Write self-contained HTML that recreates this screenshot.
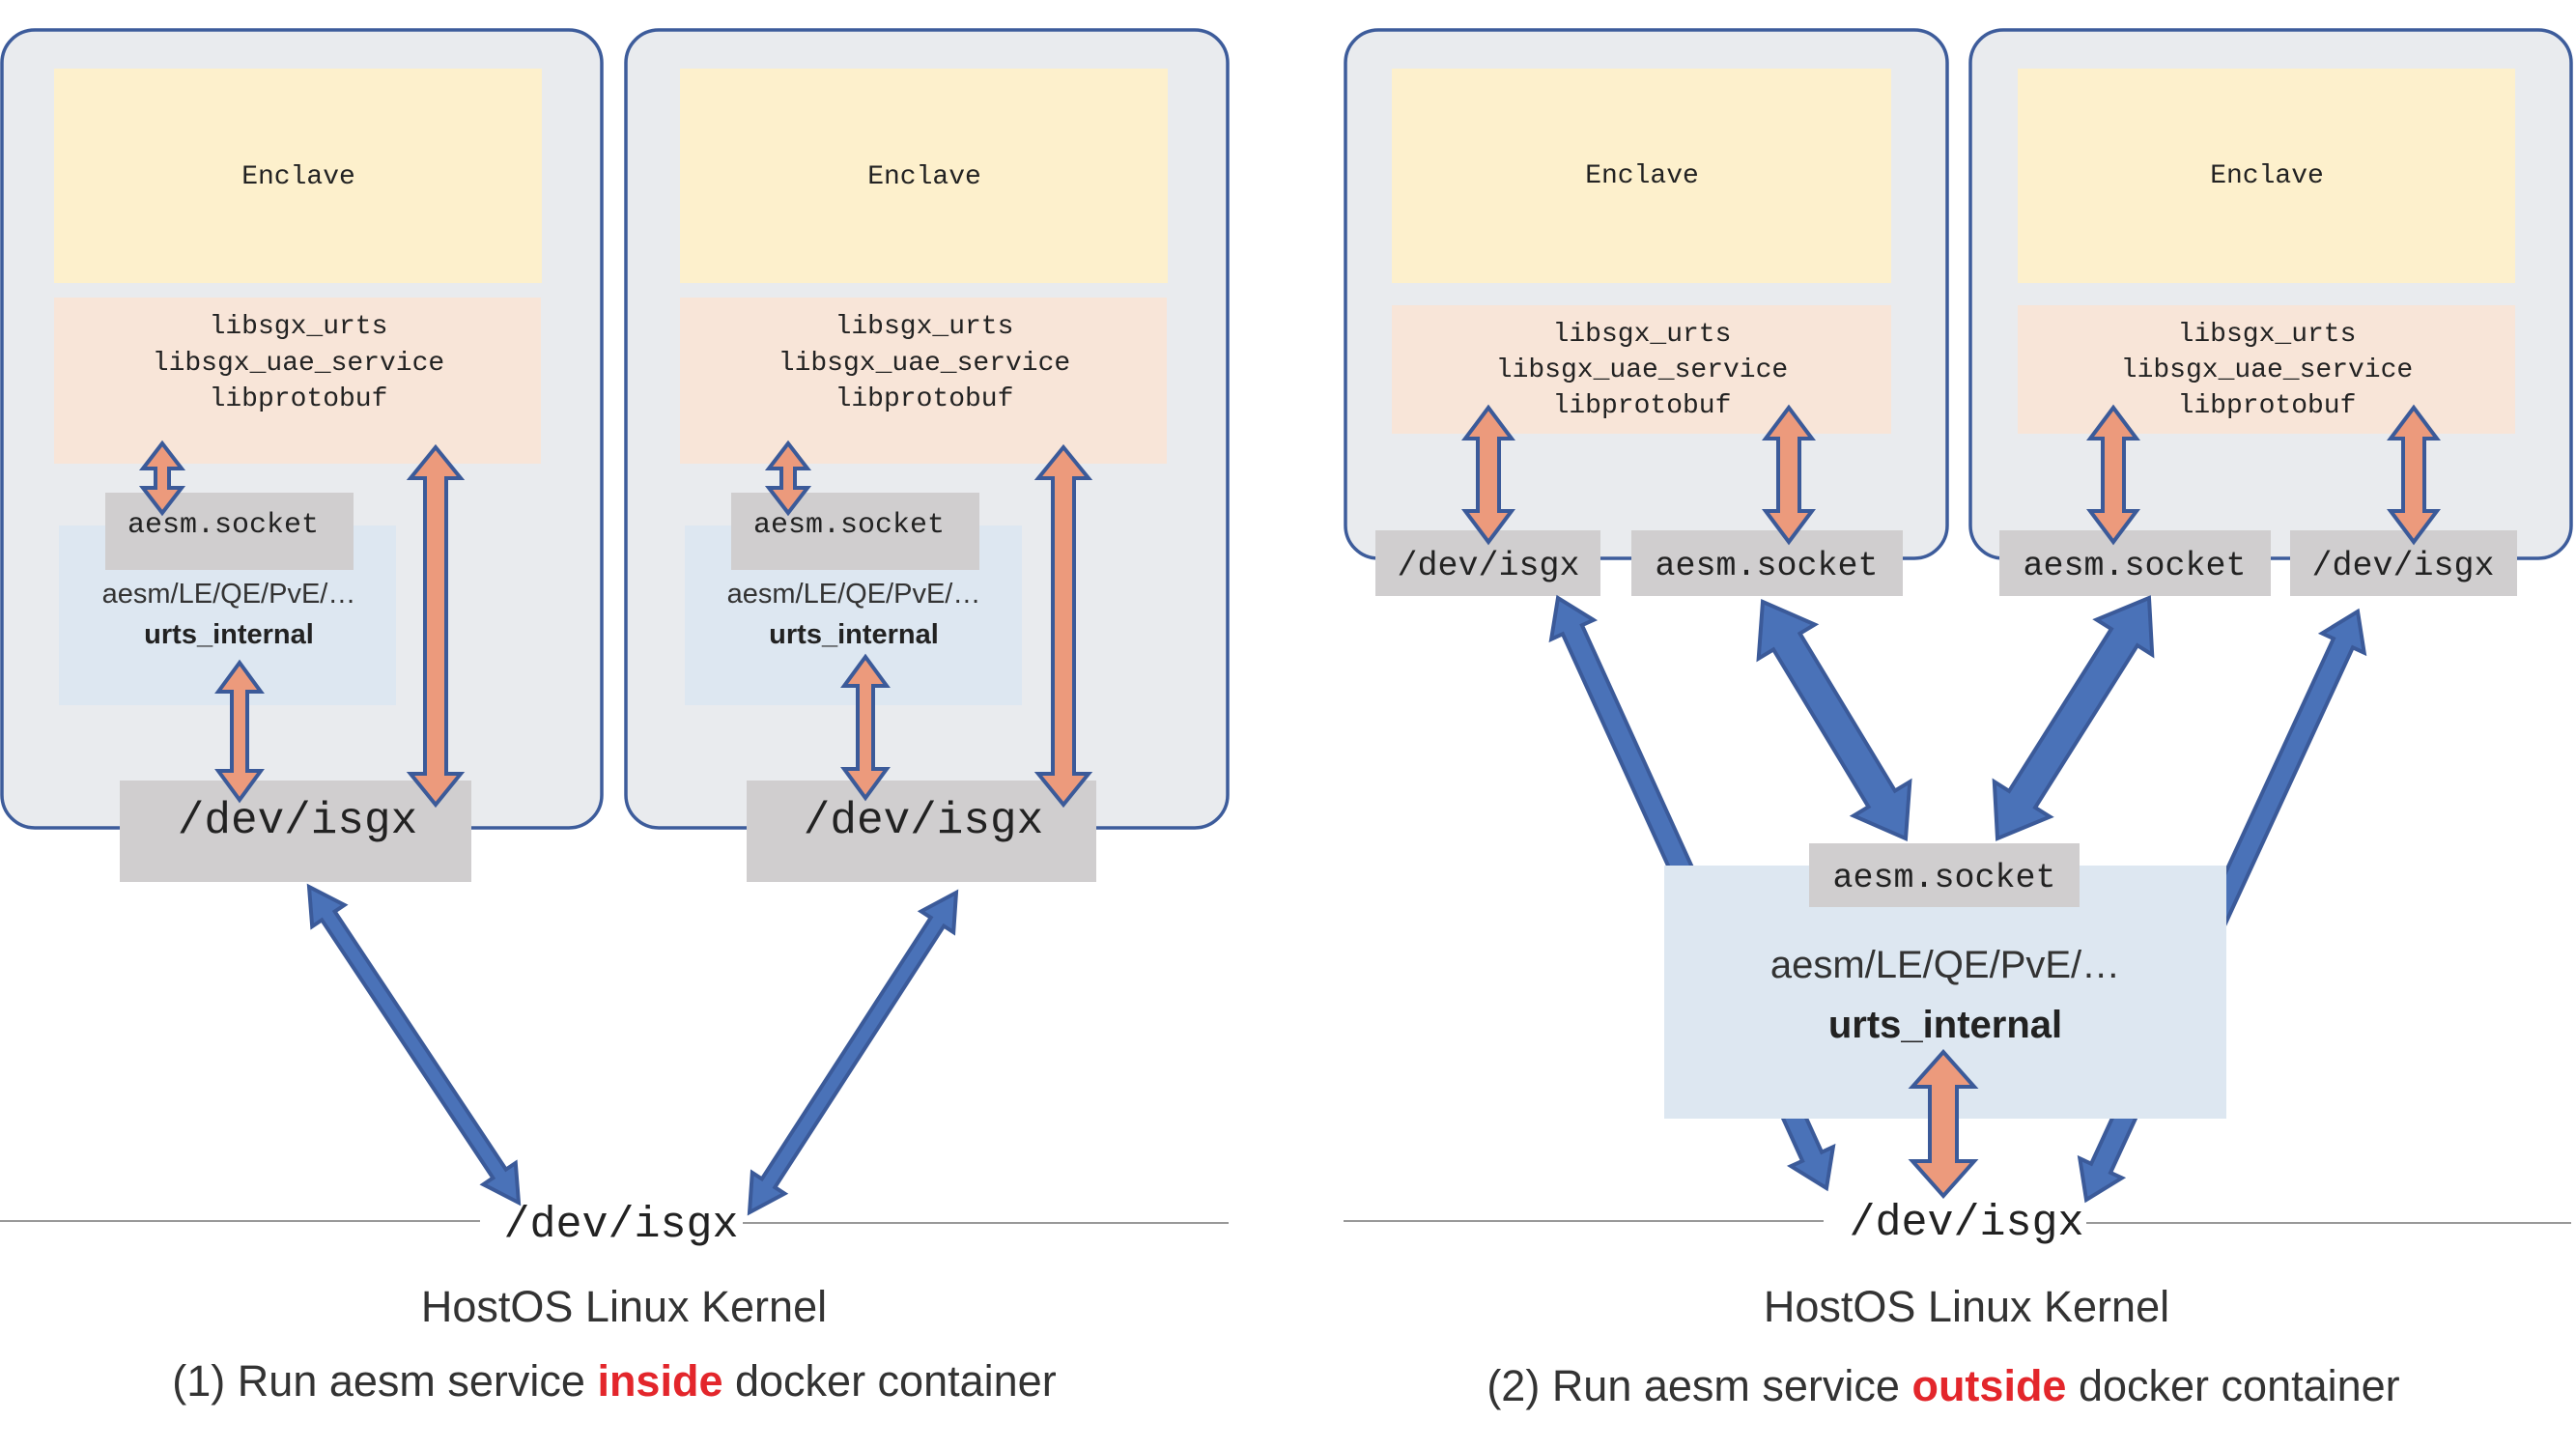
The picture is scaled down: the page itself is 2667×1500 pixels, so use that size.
<!DOCTYPE html>
<html><head><meta charset="utf-8"><style>
html,body{margin:0;padding:0;background:#fff}
svg{display:block}
.m{font-family:"Liberation Mono",monospace;fill:#222}
.s{font-family:"Liberation Sans",sans-serif;fill:#333}
</style></head><body>
<svg id="sv" width="2667" height="1500" viewBox="0 0 2667 1500" xmlns="http://www.w3.org/2000/svg">
<g id="bg">
<!-- left containers -->
<rect x="2" y="31" width="621" height="826" rx="34" fill="#e9ebee" stroke="#3d5c9b" stroke-width="3.5"/>
<rect x="648" y="31" width="623" height="826" rx="34" fill="#e9ebee" stroke="#3d5c9b" stroke-width="3.5"/>
<rect x="56" y="71" width="505" height="222" fill="#fdf0cc"/>
<rect x="704" y="71" width="505" height="222" fill="#fdf0cc"/>
<rect x="56" y="308" width="504" height="172" fill="#f8e5d8"/>
<rect x="704" y="308" width="504" height="172" fill="#f8e5d8"/>
<rect x="61" y="544" width="349" height="186" fill="#dde7f1"/>
<rect x="709" y="544" width="349" height="186" fill="#dde7f1"/>
<rect x="109" y="510" width="257" height="80" fill="#d0cecf"/>
<rect x="757" y="510" width="257" height="80" fill="#d0cecf"/>
<rect x="124" y="808" width="364" height="105" fill="#d0cecf"/>
<rect x="773" y="808" width="362" height="105" fill="#d0cecf"/>
<!-- right containers -->
<rect x="1393" y="31" width="623" height="547" rx="34" fill="#e9ebee" stroke="#3d5c9b" stroke-width="3.5"/>
<rect x="2040" y="31" width="622" height="547" rx="34" fill="#e9ebee" stroke="#3d5c9b" stroke-width="3.5"/>
<rect x="1441" y="71" width="517" height="222" fill="#fdf0cc"/>
<rect x="2089" y="71" width="515" height="222" fill="#fdf0cc"/>
<rect x="1441" y="316" width="517" height="133" fill="#f8e5d8"/>
<rect x="2089" y="316" width="515" height="133" fill="#f8e5d8"/>
<rect x="1424" y="549" width="233" height="68" fill="#d0cecf"/>
<rect x="1689" y="549" width="281" height="68" fill="#d0cecf"/>
<rect x="2070" y="549" width="281" height="68" fill="#d0cecf"/>
<rect x="2371" y="549" width="235" height="68" fill="#d0cecf"/>
<!-- kernel lines -->
<line x1="0" y1="1264" x2="497" y2="1264" stroke="#999" stroke-width="2"/>
<line x1="769" y1="1266" x2="1272" y2="1266" stroke="#999" stroke-width="2"/>
<line x1="1391" y1="1264" x2="1888" y2="1264" stroke="#999" stroke-width="2"/>
<line x1="2160" y1="1266" x2="2662" y2="1266" stroke="#999" stroke-width="2"/>
</g>
<g id="behind"></g>
<g id="mid">
<rect x="1723" y="896" width="582" height="262" fill="#dde7f1"/>
<rect x="1873" y="873" width="280" height="66" fill="#d0cecf"/>
</g>
<g id="front"></g>
<g id="txt" text-anchor="middle">
<text class="m" x="309" y="190" font-size="28">Enclave</text>
<text class="m" x="957" y="190" font-size="28">Enclave</text>
<text class="m" x="309" y="345" font-size="28">libsgx_urts</text>
<text class="m" x="309" y="383" font-size="28">libsgx_uae_service</text>
<text class="m" x="309" y="420" font-size="28">libprotobuf</text>
<text class="m" x="957" y="345" font-size="28">libsgx_urts</text>
<text class="m" x="957" y="383" font-size="28">libsgx_uae_service</text>
<text class="m" x="957" y="420" font-size="28">libprotobuf</text>
<text class="m" x="231" y="551" font-size="30">aesm.socket</text>
<text class="m" x="879" y="551" font-size="30">aesm.socket</text>
<text class="s" x="237" y="624" font-size="29">aesm/LE/QE/PvE/…</text>
<text class="s" x="237" y="666" font-size="29" font-weight="bold" style="fill:#222">urts_internal</text>
<text class="s" x="884" y="624" font-size="29">aesm/LE/QE/PvE/…</text>
<text class="s" x="884" y="666" font-size="29" font-weight="bold" style="fill:#222">urts_internal</text>
<text class="m" x="308" y="862" font-size="46">/dev/isgx</text>
<text class="m" x="956" y="862" font-size="46">/dev/isgx</text>
<text class="m" x="643" y="1280" font-size="45">/dev/isgx</text>
<text class="s" x="646" y="1368" font-size="45">HostOS Linux Kernel</text>
<text class="s" x="636" y="1445" font-size="45">(1) Run aesm service <tspan font-weight="bold" style="fill:#e3262b">inside</tspan> docker container</text>

<text class="m" x="1700" y="189" font-size="28">Enclave</text>
<text class="m" x="2347" y="189" font-size="28">Enclave</text>
<text class="m" x="1700" y="353" font-size="28">libsgx_urts</text>
<text class="m" x="1700" y="390" font-size="28">libsgx_uae_service</text>
<text class="m" x="1700" y="427" font-size="28">libprotobuf</text>
<text class="m" x="2347" y="353" font-size="28">libsgx_urts</text>
<text class="m" x="2347" y="390" font-size="28">libsgx_uae_service</text>
<text class="m" x="2347" y="427" font-size="28">libprotobuf</text>
<text class="m" x="1541" y="595" font-size="35">/dev/isgx</text>
<text class="m" x="1829" y="595" font-size="35">aesm.socket</text>
<text class="m" x="2210" y="595" font-size="35">aesm.socket</text>
<text class="m" x="2488" y="595" font-size="35">/dev/isgx</text>
<text class="m" x="2013" y="918" font-size="35">aesm.socket</text>
<text class="s" x="2014" y="1012" font-size="40">aesm/LE/QE/PvE/…</text>
<text class="s" x="2014" y="1074" font-size="40" font-weight="bold" style="fill:#222">urts_internal</text>
<text class="m" x="2036" y="1278" font-size="45">/dev/isgx</text>
<text class="s" x="2036" y="1368" font-size="45">HostOS Linux Kernel</text>
<text class="s" x="2012" y="1450" font-size="45">(2) Run aesm service <tspan font-weight="bold" style="fill:#e3262b">outside</tspan> docker container</text>
</g>
</svg>
<script>
function arrow(g,x1,y1,x2,y2,w,h,L,fill,stroke,both){
 var dx=x2-x1,dy=y2-y1,len=Math.hypot(dx,dy),ux=dx/len,uy=dy/len,nx=-uy,ny=ux;
 function P(t,s){return (x1+ux*t+nx*s).toFixed(1)+","+(y1+uy*t+ny*s).toFixed(1);}
 var pts=[];
 if(both){pts.push(P(0,0),P(L,h),P(L,w));}else{pts.push(P(0,w));}
 pts.push(P(len-L,w),P(len-L,h),P(len,0),P(len-L,-h),P(len-L,-w));
 if(both){pts.push(P(L,-w),P(L,-h));}else{pts.push(P(0,-w));}
 var p=document.createElementNS("http://www.w3.org/2000/svg","polygon");
 p.setAttribute("points",pts.join(" "));p.setAttribute("fill",fill);p.setAttribute("stroke",stroke);
 p.setAttribute("stroke-width","4");p.setAttribute("stroke-linejoin","miter");
 document.getElementById(g).appendChild(p);
}
var S="#ec9a7c",B="#4a72b8",E="#3b5a99";
// left salmon
arrow("front",168,459,168,531,7,20,26,S,E,1);
arrow("front",248,686,248,828,8,22,30,S,E,1);
arrow("front",451,463,451,833,11,26,32,S,E,1);
arrow("front",816,459,816,531,7,20,26,S,E,1);
arrow("front",896,680,896,826,8,22,30,S,E,1);
arrow("front",1101,463,1101,833,11,26,32,S,E,1);
// left blue
arrow("front",320,918,537,1245,8,20,36,B,E,1);
arrow("front",990,924,776,1255,8,20,36,B,E,1);
// right salmon
arrow("front",1541,422,1541,561,11,24,32,S,E,1);
arrow("front",1852,422,1852,561,11,24,32,S,E,1);
arrow("front",2188,422,2188,561,11,24,32,S,E,1);
arrow("front",2499,422,2499,561,11,24,32,S,E,1);
arrow("front",2012,1089,2012,1238,14,32,36,S,E,1);
// right blue
arrow("behind",1613,619,1891,1230,11,24,36,B,E,1);
arrow("behind",2441,633,2160,1242,11,24,36,B,E,1);
arrow("front",1825,623,1973,868,16,34,48,B,E,1);
arrow("front",2225,619,2068,868,16,34,48,B,E,1);
</script>
</body></html>
